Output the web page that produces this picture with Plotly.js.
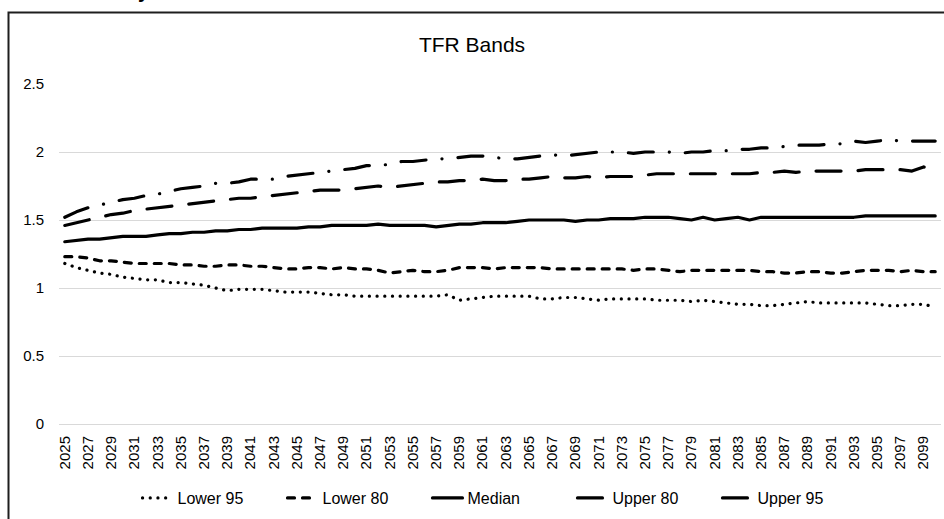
<!DOCTYPE html>
<html>
<head>
<meta charset="utf-8">
<script src="https://cdn.plot.ly/plotly-3.0.1.min.js"></script>
<style>
  html, body { margin: 0; padding: 0; background: #fff; }
  #chart { width: 944px; height: 519px; }
  .js-line { stroke-linecap: round; stroke-linejoin: round; }
</style>
</head>
<body>
<div id="chart"></div>
<script>
const years = [2025,2026,2027,2028,2029,2030,2031,2032,2033,2034,2035,2036,2037,2038,2039,2040,
  2041,2042,2043,2044,2045,2046,2047,2048,2049,2050,2051,2052,2053,2054,2055,2056,2057,2058,2059,2060,
  2061,2062,2063,2064,2065,2066,2067,2068,2069,2070,2071,2072,2073,2074,2075,2076,2077,2078,2079,2080,
  2081,2082,2083,2084,2085,2086,2087,2088,2089,2090,2091,2092,2093,2094,2095,2096,2097,2098,2099,2100];
const tickYears = [2025,2027,2029,2031,2033,2035,2037,2039,2041,2043,2045,2047,2049,2051,2053,2055,2057,2059,
  2061,2063,2065,2067,2069,2071,2073,2075,2077,2079,2081,2083,2085,2087,2089,2091,2093,2095,2097,2099];
const tickLabels = tickYears.map(String);

const lower95 = [1.18,1.15,1.13,1.11,1.10,1.08,1.07,1.06,1.06,1.04,
  1.04,1.03,1.02,1.00,0.98,0.99,0.99,0.99,0.98,0.97,
  0.97,0.97,0.96,0.95,0.95,0.94,0.94,0.94,0.94,0.94,
  0.94,0.94,0.94,0.95,0.91,0.92,0.93,0.94,0.94,0.94,
  0.94,0.92,0.92,0.93,0.93,0.92,0.91,0.92,0.92,0.92,
  0.92,0.91,0.91,0.91,0.90,0.91,0.90,0.89,0.88,0.88,
  0.87,0.87,0.88,0.89,0.90,0.89,0.89,0.89,0.89,0.89,
  0.88,0.87,0.87,0.88,0.88,0.86];
const lower80 = [1.23,1.23,1.22,1.20,1.20,1.19,1.18,1.18,1.18,1.18,
  1.17,1.17,1.16,1.16,1.17,1.17,1.16,1.16,1.15,1.14,
  1.14,1.15,1.15,1.14,1.15,1.14,1.14,1.13,1.11,1.12,
  1.13,1.12,1.12,1.13,1.15,1.15,1.15,1.14,1.15,1.15,
  1.15,1.15,1.14,1.14,1.14,1.14,1.14,1.14,1.14,1.13,
  1.14,1.14,1.13,1.12,1.13,1.13,1.13,1.13,1.13,1.13,
  1.12,1.12,1.11,1.11,1.12,1.12,1.11,1.11,1.12,1.13,
  1.13,1.13,1.12,1.13,1.12,1.12];
const median = [1.34,1.35,1.36,1.36,1.37,1.38,1.38,1.38,1.39,1.40,
  1.40,1.41,1.41,1.42,1.42,1.43,1.43,1.44,1.44,1.44,
  1.44,1.45,1.45,1.46,1.46,1.46,1.46,1.47,1.46,1.46,
  1.46,1.46,1.45,1.46,1.47,1.47,1.48,1.48,1.48,1.49,
  1.50,1.50,1.50,1.50,1.49,1.50,1.50,1.51,1.51,1.51,
  1.52,1.52,1.52,1.51,1.50,1.52,1.50,1.51,1.52,1.50,
  1.52,1.52,1.52,1.52,1.52,1.52,1.52,1.52,1.52,1.53,
  1.53,1.53,1.53,1.53,1.53,1.53];
const upper80 = [1.46,1.48,1.50,1.52,1.54,1.55,1.57,1.58,1.59,1.60,
  1.61,1.62,1.63,1.64,1.65,1.66,1.66,1.67,1.68,1.69,
  1.70,1.71,1.72,1.72,1.72,1.73,1.74,1.75,1.74,1.75,
  1.76,1.77,1.78,1.78,1.79,1.79,1.80,1.79,1.79,1.80,
  1.80,1.81,1.82,1.81,1.81,1.82,1.81,1.82,1.82,1.82,
  1.83,1.84,1.84,1.84,1.84,1.84,1.84,1.84,1.84,1.84,
  1.85,1.85,1.86,1.85,1.86,1.86,1.86,1.86,1.86,1.87,
  1.87,1.87,1.87,1.86,1.89,1.88];
const upper95 = [1.52,1.56,1.59,1.61,1.63,1.65,1.66,1.68,1.69,1.71,
  1.73,1.74,1.75,1.77,1.77,1.78,1.80,1.80,1.80,1.82,
  1.83,1.84,1.85,1.86,1.87,1.88,1.90,1.90,1.91,1.93,
  1.93,1.94,1.95,1.95,1.96,1.97,1.97,1.96,1.95,1.95,
  1.96,1.97,1.98,1.97,1.98,1.99,2.00,2.00,2.00,1.99,
  2.00,2.00,2.00,1.99,2.00,2.00,2.01,2.01,2.02,2.02,
  2.03,2.03,2.04,2.05,2.05,2.05,2.06,2.06,2.08,2.07,
  2.08,2.09,2.08,2.08,2.08,2.08];

const seriesNames = ['Lower 95', 'Lower 80', 'Median', 'Upper 80', 'Upper 95'];
const seriesValues = [lower95, lower80, median, upper80, upper95];
const dashes = ['0.1px,7.6px', '7px,8px', 'solid', '25px,17px', '25px,16px,0.1px,16px'];

const FONT = '"Liberation Sans", Arial, sans-serif';

const traces = seriesNames.map((name, k) => ({
  type: 'scatter',
  mode: 'lines',
  name: name,
  x: years,
  y: seriesValues[k],
  line: { color: '#000000', width: 3.2, dash: dashes[k] },
  hoverinfo: 'skip'
}));

// plot area in pixels: x 59..941, y 84..424
const L = 59, R = 941, T = 84, B = 424;
const px = v => (v - L) / (R - L);
const py = v => (B - v) / (B - T);

const layout = {
  width: 944,
  height: 519,
  margin: { l: L, r: 944 - R, t: T, b: 519 - B, pad: 0 },
  paper_bgcolor: '#ffffff',
  plot_bgcolor: '#ffffff',
  showlegend: true,
  font: { family: FONT, color: '#000000', size: 15 },
  title: {
    text: 'TFR Bands',
    font: { family: FONT, size: 21, color: '#000000' },
    x: 0.5, xref: 'container', xanchor: 'center',
    y: 1 - 45 / 519, yref: 'container', yanchor: 'middle'
  },
  xaxis: {
    type: 'linear',
    range: [2024.5, 2100.5],
    tickmode: 'array',
    tickvals: tickYears,
    ticktext: tickLabels,
    tickangle: -90,
    ticks: '',
    ticklabelstandoff: 8,
    showgrid: false,
    zeroline: false,
    showline: false,
    tickfont: { family: FONT, size: 15, color: '#000000' },
    fixedrange: true
  },
  yaxis: {
    range: [0, 2.5],
    tick0: 0,
    dtick: 0.5,
    ticks: '',
    ticklabelstandoff: 14,
    showgrid: true,
    gridcolor: '#d9d9d9',
    gridwidth: 1,
    zeroline: true,
    zerolinecolor: '#d9d9d9',
    zerolinewidth: 1,
    showline: false,
    tickfont: { family: FONT, size: 15, color: '#000000' },
    fixedrange: true
  },
  legend: {
    orientation: 'h',
    x: 0.5, xanchor: 'center',
    y: py(498), yanchor: 'middle',
    font: { family: FONT, size: 16, color: '#000000' },
    bgcolor: 'rgba(0,0,0,0)',
    entrywidth: 100,
    entrywidthmode: 'pixels'
  },
  shapes: [
    {
      type: 'rect', xref: 'paper', yref: 'paper',
      x0: px(8.5), x1: px(960), y0: py(540), y1: py(12.5),
      line: { color: '#1e1e1e', width: 2 },
      fillcolor: 'rgba(0,0,0,0)',
      layer: 'above'
    }
  ],
  annotations: [
    {
      text: '<b>Fertility</b>',
      xref: 'paper', yref: 'paper',
      x: px(152), y: py(4),
      xanchor: 'right', yanchor: 'bottom',
      showarrow: false,
      font: { family: FONT, size: 20, color: '#000000' }
    }
  ]
};

Plotly.newPlot('chart', traces, layout, { staticPlot: true, displayModeBar: false });
</script>
</body>
</html>
